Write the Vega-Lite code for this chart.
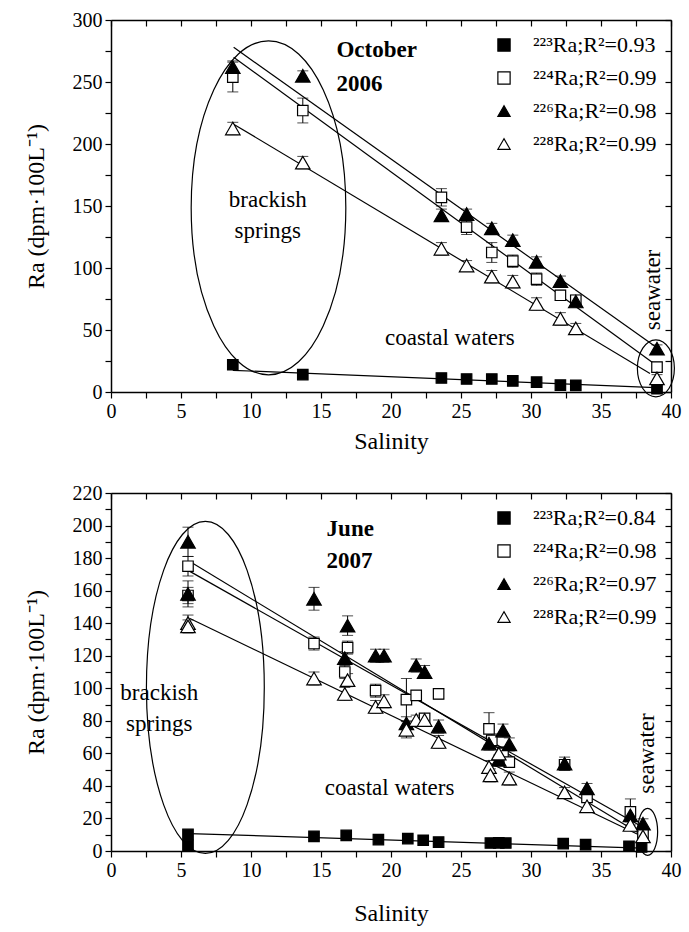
{
  "$schema": "https://vega.github.io/schema/vega-lite/v6.json",
  "background": "white",
  "padding": {"left": 24, "top": 10, "right": 5, "bottom": 5},
  "spacing": 30,
  "config": {
    "font": "Liberation Serif, Times New Roman, Times, serif",
    "view": {"stroke": null},
    "text": {"font": "Liberation Serif, Times New Roman, Times, serif"},
    "axis": {"grid": false, "domainColor": "black", "domainWidth": 1.5, "tickColor": "black", "tickWidth": 1.2, "labelColor": "black", "titleColor": "black", "labelFont": "Liberation Serif, Times New Roman, Times, serif", "titleFont": "Liberation Serif, Times New Roman, Times, serif", "labelFontSize": 20, "titleFontSize": 24, "titleFontWeight": "normal", "labelFlush": false, "labelOverlap": false},
    "legend": {"labelFont": "Liberation Serif, Times New Roman, Times, serif", "labelColor": "black", "symbolStrokeColor": "black", "symbolStrokeWidth": 1.2}
  },
  "datasets": {
    "pts2006": [
      {"iso": "223", "sal": 8.7, "ra": 22, "err": 0}, {"iso": "223", "sal": 13.7, "ra": 14, "err": 0}, {"iso": "223", "sal": 23.6, "ra": 11.3, "err": 0}, {"iso": "223", "sal": 25.4, "ra": 10.5, "err": 0}, {"iso": "223", "sal": 27.2, "ra": 10.5, "err": 0}, {"iso": "223", "sal": 28.7, "ra": 8.9, "err": 0}, {"iso": "223", "sal": 30.4, "ra": 8, "err": 0}, {"iso": "223", "sal": 32.1, "ra": 5.6, "err": 0}, {"iso": "223", "sal": 33.2, "ra": 5.4, "err": 0}, {"iso": "223", "sal": 39.0, "ra": 2.6, "err": 0},
      {"iso": "224", "sal": 8.7, "ra": 254, "err": 12}, {"iso": "224", "sal": 13.7, "ra": 227, "err": 10}, {"iso": "224", "sal": 23.6, "ra": 157, "err": 7}, {"iso": "224", "sal": 25.4, "ra": 133, "err": 6}, {"iso": "224", "sal": 27.2, "ra": 112.5, "err": 8}, {"iso": "224", "sal": 28.7, "ra": 105.5, "err": 5}, {"iso": "224", "sal": 30.4, "ra": 91, "err": 5}, {"iso": "224", "sal": 32.1, "ra": 78, "err": 4}, {"iso": "224", "sal": 33.2, "ra": 74, "err": 4}, {"iso": "224", "sal": 39.0, "ra": 20, "err": 4},
      {"iso": "226", "sal": 8.7, "ra": 262, "err": 5}, {"iso": "226", "sal": 13.7, "ra": 255, "err": 4}, {"iso": "226", "sal": 23.6, "ra": 142.5, "err": 5}, {"iso": "226", "sal": 25.4, "ra": 143.5, "err": 4}, {"iso": "226", "sal": 27.2, "ra": 132, "err": 4}, {"iso": "226", "sal": 28.7, "ra": 122.5, "err": 4}, {"iso": "226", "sal": 30.4, "ra": 105, "err": 4}, {"iso": "226", "sal": 32.1, "ra": 89.5, "err": 4}, {"iso": "226", "sal": 33.2, "ra": 73, "err": 4}, {"iso": "226", "sal": 39.0, "ra": 35, "err": 3},
      {"iso": "228", "sal": 8.7, "ra": 212.5, "err": 5}, {"iso": "228", "sal": 13.7, "ra": 185, "err": 5}, {"iso": "228", "sal": 23.6, "ra": 115.5, "err": 5}, {"iso": "228", "sal": 25.4, "ra": 102, "err": 4}, {"iso": "228", "sal": 27.2, "ra": 93, "err": 5}, {"iso": "228", "sal": 28.7, "ra": 89, "err": 5}, {"iso": "228", "sal": 30.4, "ra": 71, "err": 5}, {"iso": "228", "sal": 32.1, "ra": 59, "err": 5}, {"iso": "228", "sal": 33.2, "ra": 51.3, "err": 4}, {"iso": "228", "sal": 39.0, "ra": 11, "err": 3}
    ],
    "pts2007": [
      {"iso": "223", "sal": 5.5, "ra": 10.2, "err": 0}, {"iso": "223", "sal": 5.5, "ra": 3.5, "err": 0}, {"iso": "223", "sal": 14.5, "ra": 9, "err": 0}, {"iso": "223", "sal": 16.8, "ra": 9.6, "err": 0}, {"iso": "223", "sal": 19.1, "ra": 7, "err": 0}, {"iso": "223", "sal": 21.2, "ra": 7.6, "err": 0}, {"iso": "223", "sal": 22.3, "ra": 6.6, "err": 0}, {"iso": "223", "sal": 23.4, "ra": 5.5, "err": 0}, {"iso": "223", "sal": 27.1, "ra": 4.9, "err": 0}, {"iso": "223", "sal": 27.7, "ra": 5.0, "err": 0}, {"iso": "223", "sal": 28.2, "ra": 4.9, "err": 0}, {"iso": "223", "sal": 32.3, "ra": 4.5, "err": 0}, {"iso": "223", "sal": 33.9, "ra": 3.9, "err": 0}, {"iso": "223", "sal": 37.0, "ra": 2.9, "err": 0}, {"iso": "223", "sal": 37.9, "ra": 2.5, "err": 0},
      {"iso": "224", "sal": 5.5, "ra": 175, "err": 6}, {"iso": "224", "sal": 5.5, "ra": 157, "err": 5}, {"iso": "224", "sal": 14.5, "ra": 127.5, "err": 4}, {"iso": "224", "sal": 16.9, "ra": 125, "err": 4}, {"iso": "224", "sal": 16.7, "ra": 110, "err": 4}, {"iso": "224", "sal": 18.9, "ra": 98.5, "err": 4}, {"iso": "224", "sal": 21.1, "ra": 93, "err": 13}, {"iso": "224", "sal": 21.8, "ra": 95.6, "err": 3}, {"iso": "224", "sal": 22.4, "ra": 81.5, "err": 3}, {"iso": "224", "sal": 23.4, "ra": 96.5, "err": 3}, {"iso": "224", "sal": 27.0, "ra": 75, "err": 10}, {"iso": "224", "sal": 27.2, "ra": 68, "err": 4}, {"iso": "224", "sal": 28.0, "ra": 60, "err": 4}, {"iso": "224", "sal": 28.45, "ra": 54.6, "err": 3}, {"iso": "224", "sal": 32.4, "ra": 53, "err": 3}, {"iso": "224", "sal": 34.0, "ra": 33, "err": 3}, {"iso": "224", "sal": 37.1, "ra": 24, "err": 8}, {"iso": "224", "sal": 38.0, "ra": 10, "err": 3},
      {"iso": "226", "sal": 5.5, "ra": 190, "err": 9}, {"iso": "226", "sal": 5.5, "ra": 158, "err": 8}, {"iso": "226", "sal": 14.5, "ra": 155, "err": 7}, {"iso": "226", "sal": 16.9, "ra": 138.5, "err": 6}, {"iso": "226", "sal": 16.7, "ra": 118.5, "err": 4}, {"iso": "226", "sal": 18.9, "ra": 120, "err": 4}, {"iso": "226", "sal": 19.5, "ra": 120, "err": 4}, {"iso": "226", "sal": 21.1, "ra": 78.5, "err": 4}, {"iso": "226", "sal": 21.8, "ra": 114, "err": 4}, {"iso": "226", "sal": 22.4, "ra": 110, "err": 4}, {"iso": "226", "sal": 23.4, "ra": 76.5, "err": 4}, {"iso": "226", "sal": 27.0, "ra": 66, "err": 4}, {"iso": "226", "sal": 27.7, "ra": 56, "err": 3}, {"iso": "226", "sal": 28.0, "ra": 74, "err": 4}, {"iso": "226", "sal": 28.45, "ra": 65.5, "err": 4}, {"iso": "226", "sal": 32.4, "ra": 53.7, "err": 4}, {"iso": "226", "sal": 34.0, "ra": 38.5, "err": 3}, {"iso": "226", "sal": 37.1, "ra": 21.9, "err": 4}, {"iso": "226", "sal": 38.0, "ra": 16.8, "err": 3},
      {"iso": "228", "sal": 5.5, "ra": 140, "err": 5}, {"iso": "228", "sal": 5.5, "ra": 138, "err": 4}, {"iso": "228", "sal": 14.5, "ra": 106, "err": 4}, {"iso": "228", "sal": 16.9, "ra": 105, "err": 4}, {"iso": "228", "sal": 16.7, "ra": 96.5, "err": 4}, {"iso": "228", "sal": 18.9, "ra": 88.5, "err": 4}, {"iso": "228", "sal": 19.5, "ra": 92, "err": 4}, {"iso": "228", "sal": 21.1, "ra": 74.5, "err": 5}, {"iso": "228", "sal": 21.8, "ra": 80.5, "err": 3}, {"iso": "228", "sal": 22.4, "ra": 80.5, "err": 3}, {"iso": "228", "sal": 23.4, "ra": 67, "err": 4}, {"iso": "228", "sal": 27.0, "ra": 51.6, "err": 4}, {"iso": "228", "sal": 27.1, "ra": 46.5, "err": 4}, {"iso": "228", "sal": 27.7, "ra": 59.8, "err": 4}, {"iso": "228", "sal": 28.45, "ra": 44.5, "err": 4}, {"iso": "228", "sal": 32.4, "ra": 36, "err": 3}, {"iso": "228", "sal": 34.0, "ra": 27.5, "err": 3}, {"iso": "228", "sal": 37.1, "ra": 16, "err": 3}, {"iso": "228", "sal": 38.0, "ra": 9, "err": 3}
    ],
    "fit2006": [
      {"iso": "226", "sal": 8.76, "ra": 278}, {"iso": "226", "sal": 38.9, "ra": 36.5},
      {"iso": "224", "sal": 8.76, "ra": 270}, {"iso": "224", "sal": 38.9, "ra": 22},
      {"iso": "228", "sal": 8.76, "ra": 216}, {"iso": "228", "sal": 38.5, "ra": 15},
      {"iso": "223", "sal": 8.7, "ra": 17.5}, {"iso": "223", "sal": 38.9, "ra": 3.5}
    ],
    "fit2007": [
      {"iso": "224", "sal": 5.6, "ra": 178}, {"iso": "224", "sal": 37.8, "ra": 10.5},
      {"iso": "226", "sal": 5.6, "ra": 172}, {"iso": "226", "sal": 37.8, "ra": 15.5},
      {"iso": "228", "sal": 5.6, "ra": 143}, {"iso": "228", "sal": 37.8, "ra": 9.5},
      {"iso": "223", "sal": 5.6, "ra": 10.7}, {"iso": "223", "sal": 37.9, "ra": 1.8}
    ],
    "ell2006": [
      {"kind": "springs", "sal": 11.25, "ra": 148.5},
      {"kind": "sea", "sal": 38.92, "ra": 19.1}
    ],
    "ell2007": [
      {"kind": "springs", "sal": 6.74, "ra": 100.5},
      {"kind": "sea", "sal": 38.33, "ra": 11.8}
    ],
    "note2006": [
      {"style": "bold", "text": "October", "sal": 16.1, "ra": 270.4},
      {"style": "bold", "text": "2006", "sal": 16.1, "ra": 243},
      {"style": "plain", "text": "brackish", "sal": 11.2, "ra": 149},
      {"style": "plain", "text": "springs", "sal": 11.2, "ra": 124},
      {"style": "plain", "text": "coastal waters", "sal": 24.2, "ra": 37.9},
      {"style": "vertical", "text": "seawater", "sal": 39.24, "ra": 82.3}
    ],
    "note2007": [
      {"style": "bold", "text": "June", "sal": 15.4, "ra": 193.8},
      {"style": "bold", "text": "2007", "sal": 15.4, "ra": 174},
      {"style": "plain", "text": "brackish", "sal": 3.45, "ra": 92.5},
      {"style": "plain", "text": "springs", "sal": 3.45, "ra": 74},
      {"style": "plain", "text": "coastal waters", "sal": 19.9, "ra": 34.2},
      {"style": "vertical", "text": "seawater", "sal": 38.82, "ra": 59.9}
    ]
  },
  "vconcat": [
    {
      "width": 560,
      "height": 372,
      "resolve": {"axis": {"x": "independent", "y": "independent"}},
      "layer": [
        {
          "data": {"name": "ell2006"},
          "transform": [{"filter": "datum.kind == 'springs'"}],
          "mark": {"type": "point", "shape": "M -0.463 0 A 0.463 1 0 1 1 0.463 0 A 0.463 1 0 1 1 -0.463 0 Z", "size": 111556, "filled": false, "stroke": "black", "strokeWidth": 1.2, "opacity": 1},
          "encoding": {
            "x": {"field": "sal", "type": "quantitative", "scale": {"domain": [0, 40], "nice": false, "zero": false}, "axis": {"orient": "bottom", "values": [0, 2.5, 5, 7.5, 10, 12.5, 15, 17.5, 20, 22.5, 25, 27.5, 30, 32.5, 35, 37.5, 40], "labelExpr": "datum.value % 5 == 0 ? datum.label : ''", "tickSize": 6, "labelPadding": 3, "title": "Salinity", "titlePadding": 8}},
            "y": {"field": "ra", "type": "quantitative", "scale": {"domain": [0, 300], "nice": false}, "axis": {"orient": "left", "values": [0, 25, 50, 75, 100, 125, 150, 175, 200, 225, 250, 275, 300], "labelExpr": "datum.value % 50 == 0 ? datum.label : ''", "tickSize": 6, "labelPadding": 3, "title": "Ra (dpm·100L⁻¹)", "titlePadding": 24}}
          }
        },
        {
          "data": {"name": "ell2006"},
          "transform": [{"filter": "datum.kind == 'sea'"}],
          "mark": {"type": "point", "shape": "M -0.649 0 A 0.649 1 0 1 1 0.649 0 A 0.649 1 0 1 1 -0.649 0 Z", "size": 3249, "filled": false, "stroke": "black", "strokeWidth": 1.2, "opacity": 1},
          "encoding": {
            "x": {"field": "sal", "type": "quantitative", "axis": null},
            "y": {"field": "ra", "type": "quantitative", "axis": null}
          }
        },
        {
          "data": {"name": "fit2006"},
          "mark": {"type": "line", "color": "black", "strokeWidth": 1.2},
          "encoding": {
            "x": {"field": "sal", "type": "quantitative", "axis": {"orient": "top", "values": [0, 2.5, 5, 7.5, 10, 12.5, 15, 17.5, 20, 22.5, 25, 27.5, 30, 32.5, 35, 37.5, 40], "labels": false, "tickSize": -6, "title": null}},
            "y": {"field": "ra", "type": "quantitative", "axis": {"orient": "right", "values": [0, 25, 50, 75, 100, 125, 150, 175, 200, 225, 250, 275, 300], "labels": false, "tickSize": -6, "title": null}},
            "detail": {"field": "iso", "type": "nominal"}
          }
        },
        {
          "data": {"name": "pts2006"},
          "transform": [{"filter": "datum.err > 0"}],
          "mark": {"type": "errorbar", "ticks": {"size": 11, "color": "black", "thickness": 1}, "rule": {"color": "black", "strokeWidth": 1}},
          "encoding": {
            "x": {"field": "sal", "type": "quantitative", "axis": null},
            "y": {"field": "ra", "type": "quantitative", "axis": null},
            "yError": {"field": "err"}
          }
        },
        {
          "data": {"name": "pts2006"},
          "transform": [{"filter": "datum.iso == '223' || datum.iso == '224'"}],
          "mark": {"type": "point", "filled": true, "strokeWidth": 1.2, "size": 110, "opacity": 1},
          "encoding": {
            "x": {"field": "sal", "type": "quantitative", "axis": null},
            "y": {"field": "ra", "type": "quantitative", "axis": null},
            "shape": {"field": "iso", "type": "nominal", "scale": {"domain": ["223", "224", "226", "228"], "range": ["square", "square", "triangle-up", "triangle-up"]}, "legend": {"orient": "top-right", "offset": 14, "title": null, "labelExpr": "datum.label == '223' ? '²²³Ra;R²=0.93' : datum.label == '224' ? '²²⁴Ra;R²=0.99' : datum.label == '226' ? '²²⁶Ra;R²=0.98' : '²²⁸Ra;R²=0.99'", "labelFontSize": 22, "symbolSize": 150, "rowPadding": 11, "labelOffset": 18}},
            "fill": {"field": "iso", "type": "nominal", "scale": {"domain": ["223", "224", "226", "228"], "range": ["black", "white", "black", "white"]}, "legend": {"orient": "top-right", "offset": 14, "title": null, "labelExpr": "datum.label == '223' ? '²²³Ra;R²=0.93' : datum.label == '224' ? '²²⁴Ra;R²=0.99' : datum.label == '226' ? '²²⁶Ra;R²=0.98' : '²²⁸Ra;R²=0.99'", "labelFontSize": 22, "symbolSize": 150, "rowPadding": 11, "labelOffset": 18}},
            "stroke": {"field": "iso", "type": "nominal", "scale": {"domain": ["223", "224", "226", "228"], "range": ["black", "black", "black", "black"]}, "legend": {"orient": "top-right", "offset": 14, "title": null, "labelExpr": "datum.label == '223' ? '²²³Ra;R²=0.93' : datum.label == '224' ? '²²⁴Ra;R²=0.99' : datum.label == '226' ? '²²⁶Ra;R²=0.98' : '²²⁸Ra;R²=0.99'", "labelFontSize": 22, "symbolSize": 150, "rowPadding": 11, "labelOffset": 18}}
          }
        },
        {
          "data": {"name": "pts2006"},
          "transform": [{"filter": "datum.iso == '226' || datum.iso == '228'"}],
          "mark": {"type": "point", "filled": true, "strokeWidth": 1.2, "size": 210, "opacity": 1},
          "encoding": {
            "x": {"field": "sal", "type": "quantitative", "axis": null},
            "y": {"field": "ra", "type": "quantitative", "axis": null},
            "shape": {"field": "iso", "type": "nominal"},
            "fill": {"field": "iso", "type": "nominal"},
            "stroke": {"field": "iso", "type": "nominal"}
          }
        },
        {
          "data": {"name": "note2006"},
          "transform": [{"filter": "datum.style == 'bold'"}],
          "mark": {"type": "text", "fontSize": 23, "fontWeight": "bold", "align": "left", "baseline": "alphabetic", "color": "black"},
          "encoding": {
            "x": {"field": "sal", "type": "quantitative", "axis": null},
            "y": {"field": "ra", "type": "quantitative", "axis": null},
            "text": {"field": "text"}
          }
        },
        {
          "data": {"name": "note2006"},
          "transform": [{"filter": "datum.style == 'plain'"}],
          "mark": {"type": "text", "fontSize": 23, "align": "center", "baseline": "alphabetic", "color": "black"},
          "encoding": {
            "x": {"field": "sal", "type": "quantitative", "axis": null},
            "y": {"field": "ra", "type": "quantitative", "axis": null},
            "text": {"field": "text"}
          }
        },
        {
          "data": {"name": "note2006"},
          "transform": [{"filter": "datum.style == 'vertical'"}],
          "mark": {"type": "text", "fontSize": 23, "align": "center", "baseline": "alphabetic", "angle": 270, "color": "black"},
          "encoding": {
            "x": {"field": "sal", "type": "quantitative", "axis": null},
            "y": {"field": "ra", "type": "quantitative", "axis": null},
            "text": {"field": "text"}
          }
        }
      ]
    },
    {
      "width": 560,
      "height": 358,
      "resolve": {"axis": {"x": "independent", "y": "independent"}},
      "layer": [
        {
          "data": {"name": "ell2007"},
          "transform": [{"filter": "datum.kind == 'springs'"}],
          "mark": {"type": "point", "shape": "M -0.355 0 A 0.355 1 0 1 1 0.355 0 A 0.355 1 0 1 1 -0.355 0 Z", "size": 110224, "filled": false, "stroke": "black", "strokeWidth": 1.2, "opacity": 1},
          "encoding": {
            "x": {"field": "sal", "type": "quantitative", "scale": {"domain": [0, 40], "nice": false, "zero": false}, "axis": {"orient": "bottom", "values": [0, 2.5, 5, 7.5, 10, 12.5, 15, 17.5, 20, 22.5, 25, 27.5, 30, 32.5, 35, 37.5, 40], "labelExpr": "datum.value % 5 == 0 ? datum.label : ''", "tickSize": 6, "labelPadding": 3, "title": "Salinity", "titlePadding": 21}},
            "y": {"field": "ra", "type": "quantitative", "scale": {"domain": [0, 220], "nice": false}, "axis": {"orient": "left", "values": [0, 10, 20, 30, 40, 50, 60, 70, 80, 90, 100, 110, 120, 130, 140, 150, 160, 170, 180, 190, 200, 210, 220], "labelExpr": "datum.value % 20 == 0 ? datum.label : ''", "tickSize": 6, "labelPadding": 3, "title": "Ra (dpm·100L⁻¹)", "titlePadding": 24}}
          }
        },
        {
          "data": {"name": "ell2007"},
          "transform": [{"filter": "datum.kind == 'sea'"}],
          "mark": {"type": "point", "shape": "M -0.426 0 A 0.426 1 0 1 1 0.426 0 A 0.426 1 0 1 1 -0.426 0 Z", "size": 2209, "filled": false, "stroke": "black", "strokeWidth": 1.2, "opacity": 1},
          "encoding": {
            "x": {"field": "sal", "type": "quantitative", "axis": null},
            "y": {"field": "ra", "type": "quantitative", "axis": null}
          }
        },
        {
          "data": {"name": "fit2007"},
          "mark": {"type": "line", "color": "black", "strokeWidth": 1.2},
          "encoding": {
            "x": {"field": "sal", "type": "quantitative", "axis": {"orient": "top", "values": [0, 2.5, 5, 7.5, 10, 12.5, 15, 17.5, 20, 22.5, 25, 27.5, 30, 32.5, 35, 37.5, 40], "labels": false, "tickSize": -6, "title": null}},
            "y": {"field": "ra", "type": "quantitative", "axis": {"orient": "right", "values": [0, 10, 20, 30, 40, 50, 60, 70, 80, 90, 100, 110, 120, 130, 140, 150, 160, 170, 180, 190, 200, 210, 220], "labels": false, "tickSize": -6, "title": null}},
            "detail": {"field": "iso", "type": "nominal"}
          }
        },
        {
          "data": {"name": "pts2007"},
          "transform": [{"filter": "datum.err > 0"}],
          "mark": {"type": "errorbar", "ticks": {"size": 11, "color": "black", "thickness": 1}, "rule": {"color": "black", "strokeWidth": 1}},
          "encoding": {
            "x": {"field": "sal", "type": "quantitative", "axis": null},
            "y": {"field": "ra", "type": "quantitative", "axis": null},
            "yError": {"field": "err"}
          }
        },
        {
          "data": {"name": "pts2007"},
          "transform": [{"filter": "datum.iso == '223' || datum.iso == '224'"}],
          "mark": {"type": "point", "filled": true, "strokeWidth": 1.2, "size": 110, "opacity": 1},
          "encoding": {
            "x": {"field": "sal", "type": "quantitative", "axis": null},
            "y": {"field": "ra", "type": "quantitative", "axis": null},
            "shape": {"field": "iso", "type": "nominal", "scale": {"domain": ["223", "224", "226", "228"], "range": ["square", "square", "triangle-up", "triangle-up"]}, "legend": {"orient": "top-right", "offset": 14, "title": null, "labelExpr": "datum.label == '223' ? '²²³Ra;R²=0.84' : datum.label == '224' ? '²²⁴Ra;R²=0.98' : datum.label == '226' ? '²²⁶Ra;R²=0.97' : '²²⁸Ra;R²=0.99'", "labelFontSize": 22, "symbolSize": 150, "rowPadding": 11, "labelOffset": 18}},
            "fill": {"field": "iso", "type": "nominal", "scale": {"domain": ["223", "224", "226", "228"], "range": ["black", "white", "black", "white"]}, "legend": {"orient": "top-right", "offset": 14, "title": null, "labelExpr": "datum.label == '223' ? '²²³Ra;R²=0.84' : datum.label == '224' ? '²²⁴Ra;R²=0.98' : datum.label == '226' ? '²²⁶Ra;R²=0.97' : '²²⁸Ra;R²=0.99'", "labelFontSize": 22, "symbolSize": 150, "rowPadding": 11, "labelOffset": 18}},
            "stroke": {"field": "iso", "type": "nominal", "scale": {"domain": ["223", "224", "226", "228"], "range": ["black", "black", "black", "black"]}, "legend": {"orient": "top-right", "offset": 14, "title": null, "labelExpr": "datum.label == '223' ? '²²³Ra;R²=0.84' : datum.label == '224' ? '²²⁴Ra;R²=0.98' : datum.label == '226' ? '²²⁶Ra;R²=0.97' : '²²⁸Ra;R²=0.99'", "labelFontSize": 22, "symbolSize": 150, "rowPadding": 11, "labelOffset": 18}}
          }
        },
        {
          "data": {"name": "pts2007"},
          "transform": [{"filter": "datum.iso == '226' || datum.iso == '228'"}],
          "mark": {"type": "point", "filled": true, "strokeWidth": 1.2, "size": 210, "opacity": 1},
          "encoding": {
            "x": {"field": "sal", "type": "quantitative", "axis": null},
            "y": {"field": "ra", "type": "quantitative", "axis": null},
            "shape": {"field": "iso", "type": "nominal"},
            "fill": {"field": "iso", "type": "nominal"},
            "stroke": {"field": "iso", "type": "nominal"}
          }
        },
        {
          "data": {"name": "note2007"},
          "transform": [{"filter": "datum.style == 'bold'"}],
          "mark": {"type": "text", "fontSize": 23, "fontWeight": "bold", "align": "left", "baseline": "alphabetic", "color": "black"},
          "encoding": {
            "x": {"field": "sal", "type": "quantitative", "axis": null},
            "y": {"field": "ra", "type": "quantitative", "axis": null},
            "text": {"field": "text"}
          }
        },
        {
          "data": {"name": "note2007"},
          "transform": [{"filter": "datum.style == 'plain'"}],
          "mark": {"type": "text", "fontSize": 23, "align": "center", "baseline": "alphabetic", "color": "black"},
          "encoding": {
            "x": {"field": "sal", "type": "quantitative", "axis": null},
            "y": {"field": "ra", "type": "quantitative", "axis": null},
            "text": {"field": "text"}
          }
        },
        {
          "data": {"name": "note2007"},
          "transform": [{"filter": "datum.style == 'vertical'"}],
          "mark": {"type": "text", "fontSize": 23, "align": "center", "baseline": "alphabetic", "angle": 270, "color": "black"},
          "encoding": {
            "x": {"field": "sal", "type": "quantitative", "axis": null},
            "y": {"field": "ra", "type": "quantitative", "axis": null},
            "text": {"field": "text"}
          }
        }
      ]
    }
  ],
  "resolve": {"scale": {"shape": "independent", "fill": "independent", "stroke": "independent"}, "legend": {"shape": "independent", "fill": "independent", "stroke": "independent"}}
}
